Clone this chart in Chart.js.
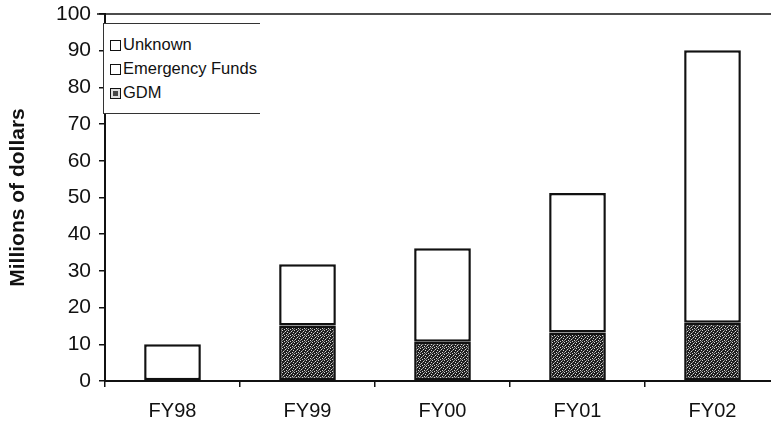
<!DOCTYPE html>
<html lang="en">
<head>
    <meta charset="UTF-8">
    <title>Funding by fiscal year</title>
    <style>
        html, body {
            margin: 0;
            padding: 0;
            background: #fff;
            overflow: hidden;
        }
        .chart-container {
            position: relative;
            width: 786px;
            height: 429px;
        }
        #legend {
            position: absolute;
            left: 103px;
            top: 23px;
            width: 156px;
            height: 89px;
            border: 1px solid #333;
            border-right: none;
            background: #fff;
            font-family: "Liberation Sans", Arial, sans-serif;
            font-size: 16.5px;
            color: #111;
        }
        .legend-item {
            position: absolute;
            left: 6px;
            height: 22px;
            line-height: 22px;
            white-space: nowrap;
        }
        .legend-item .swatch {
            display: inline-block;
            width: 9px;
            height: 9px;
            border: 1.5px solid #111;
            margin-right: 2px;
            vertical-align: -1px;
        }
    </style>
</head>
<body>

<div class="chart-container">
    <canvas id="chartCanvas" width="786" height="429"></canvas>
    <div id="legend"></div>
</div>

<script src="https://cdn.jsdelivr.net/npm/chart.js"></script>
<script>
    // values, millions of dollars
    const categories = ['FY98', 'FY99', 'FY00', 'FY01', 'FY02'];
    const gdm = [null, 15.1, 10.7, 13.2, 15.9];
    const emergencyFunds = [null, 16.7, 25.5, 38.0, 74.2];
    const unknown = [10, null, null, null, null];
    const yTicks = [0, 10, 20, 30, 40, 50, 60, 70, 80, 90, 100];

    const font = '"Liberation Sans", Arial, sans-serif';

    // stipple texture for the GDM bars (fixed dot layout)
    function stipple() {
        const c = document.createElement('canvas');
        c.width = 6;
        c.height = 6;
        const g = c.getContext('2d');
        g.fillStyle = '#1f1f1f';
        g.fillRect(0, 0, 6, 6);
        g.fillStyle = '#d8d8d8';
        [[0, 0], [3, 1], [1, 3], [4, 4], [5, 2], [2, 5]].forEach(p => g.fillRect(p[0], p[1], 1, 1));
        g.fillStyle = '#8a8a8a';
        [[2, 2], [5, 5], [0, 4], [4, 0]].forEach(p => g.fillRect(p[0], p[1], 1, 1));
        return g.createPattern(c, 'repeat');
    }
    const gdmFill = stipple();

    // top frame line of the plot
    const topLine = {
        id: 'topLine',
        afterDraw(chart) {
            const ctx = chart.ctx;
            const a = chart.chartArea;
            ctx.save();
            ctx.strokeStyle = '#111';
            ctx.lineWidth = 1.5;
            ctx.beginPath();
            ctx.moveTo(a.left - 8, a.top);
            ctx.lineTo(chart.width, a.top);
            ctx.stroke();
            ctx.restore();
        }
    };

    const ctx = document.getElementById('chartCanvas').getContext('2d');
    const chart = new Chart(ctx, {
        type: 'bar',
        data: {
            labels: categories,
            datasets: [
                {label: 'GDM', data: gdm, backgroundColor: gdmFill},
                {label: 'Emergency Funds', data: emergencyFunds, backgroundColor: '#fff'},
                {label: 'Unknown', data: unknown, backgroundColor: '#fff'}
            ]
        },
        options: {
            responsive: false,
            animation: false,
            layout: {padding: {left: 0, top: 14, right: 6, bottom: 0}},
            datasets: {
                bar: {
                    borderColor: '#111',
                    borderWidth: 2.5,
                    borderSkipped: false,
                    categoryPercentage: 1,
                    barPercentage: 0.42
                }
            },
            plugins: {
                legend: {display: false},
                tooltip: {enabled: false}
            },
            scales: {
                x: {
                    stacked: true,
                    grid: {drawOnChartArea: false, tickLength: 6, color: '#111', lineWidth: 1.5},
                    border: {display: true, color: '#111', width: 2},
                    ticks: {
                        color: '#111',
                        padding: 12,
                        font: {family: font, size: 20}
                    },
                    afterFit: s => { s.height = 48; s.paddingLeft = 0; s.paddingRight = 0; }
                },
                y: {
                    stacked: true,
                    min: 0,
                    max: 100,
                    afterBuildTicks: s => { s.ticks = yTicks.map(v => ({value: v})); },
                    grid: {drawOnChartArea: false, tickLength: 6, color: '#111', lineWidth: 1.5},
                    border: {display: true, color: '#111', width: 2},
                    ticks: {
                        color: '#111',
                        padding: 8,
                        font: {family: font, size: 21}
                    },
                    title: {
                        display: true,
                        text: 'Millions of dollars',
                        color: '#111',
                        padding: {top: 6, bottom: 0},
                        font: {family: font, size: 21, weight: 'bold'}
                    },
                    afterFit: s => { s.width = 105; s.paddingTop = 0; s.paddingBottom = 0; }
                }
            }
        },
        plugins: [topLine]
    });

    // legend box drawn in html, top series first like the original
    const legend = document.getElementById('legend');
    chart.data.datasets.slice().reverse().forEach((ds, i) => {
        const item = document.createElement('div');
        item.className = 'legend-item';
        item.style.top = (9 + i * 24) + 'px';
        const sw = document.createElement('span');
        sw.className = 'swatch';
        if (ds.label === 'GDM') {
            sw.style.background = '#444';
            sw.style.boxShadow = 'inset 0 0 0 2px #ddd';
        } else {
            sw.style.background = '#fff';
        }
        item.appendChild(sw);
        item.appendChild(document.createTextNode(ds.label));
        legend.appendChild(item);
    });
</script>

</body>
</html>
